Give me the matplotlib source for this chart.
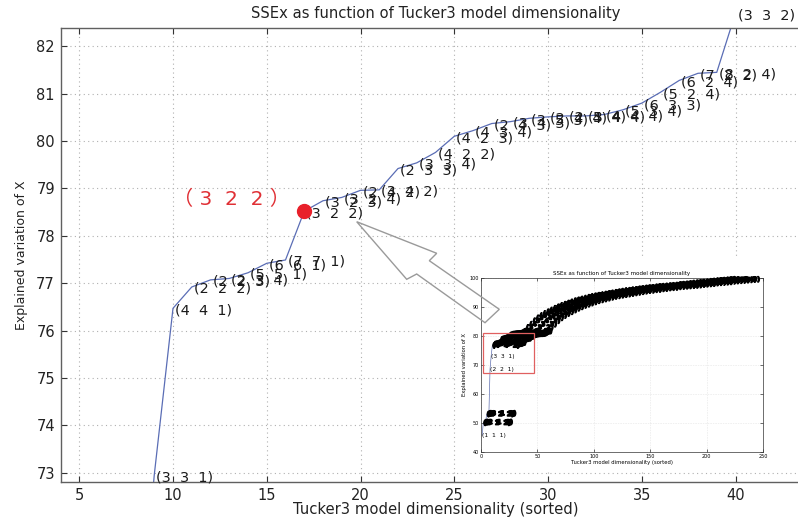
import matplotlib
matplotlib.use('Agg')
import matplotlib.pyplot as plt
import matplotlib.patheffects as pe
from matplotlib.patches import Polygon, Rectangle

# sorted model index, explained variation (%) and the Tucker3 dimensions of each model
dims = [1, 2, 3, 4, 5, 6, 7, 8, 9, 10,
        11, 12, 13, 14, 15, 16, 17, 18, 19, 20,
        21, 22, 23, 24, 25, 26, 27, 28, 29, 30,
        31, 32, 33, 34, 35, 36, 37, 38, 39, 40,
        43, 46, 49, 52, 55, 58, 61, 64, 67, 70,
        73, 76, 79, 82, 85, 88, 91, 94, 97, 100,
        103, 106, 109, 112, 115, 118, 121, 124, 127, 130,
        133, 136, 139, 142, 145, 148, 151, 154, 157, 160,
        163, 166, 169, 172, 175, 178, 181, 184, 187, 190,
        193, 196, 199, 202, 205, 208, 211, 214, 217, 220, 223]
expl = [45.7, 49.8, 50.0, 50.1, 52.8, 53.0, 53.1, 68.4, 72.95, 76.47,
        76.92, 77.07, 77.10, 77.22, 77.42, 77.49, 78.52, 78.74, 78.81, 78.96,
        78.97, 79.42, 79.54, 79.76, 80.10, 80.22, 80.37, 80.41, 80.48, 80.51,
        80.53, 80.53, 80.56, 80.66, 80.80, 81.03, 81.28, 81.43, 81.45, 82.70,
        83.8, 85.0, 86.0, 86.8, 87.5, 88.1, 88.7, 89.3, 89.8, 90.3,
        90.7, 91.1, 91.5, 91.9, 92.2, 92.5, 92.8, 93.1, 93.4, 93.6,
        93.8, 94.0, 94.2, 94.4, 94.6, 94.8, 95.0, 95.2, 95.4, 95.5,
        95.7, 95.8, 96.0, 96.1, 96.3, 96.4, 96.5, 96.7, 96.8, 96.9,
        97.0, 97.1, 97.2, 97.3, 97.5, 97.6, 97.7, 97.8, 98.0, 98.1,
        98.2, 98.3, 98.4, 98.6, 98.7, 98.8, 98.9, 99.0, 99.1, 99.2, 99.3]
tags_lo = ['1 1 1', '1 1 2', '1 2 1', '2 1 1', '1 2 2', '2 1 2', '3 1 3', '2 2 1', '3 3 1', '4 4 1',
           '2 2 2', '2 2 3', '2 3 4', '5 5 1', '6 6 1', '7 7 1', '3 2 2', '3 2 3', '3 2 4', '2 4 2',
           '3 4 2', '2 3 3', '3 3 4', '4 2 2', '4 2 3', '4 3 4', '2 4 3', '3 4 3', '3 5 3', '2 4 4',
           '2 5 4', '3 4 4', '4 4 4', '5 3 4', '6 3 3', '5 2 4', '6 2 4', '7 2 2', '8 2 4', '3 3 2']
# the remaining tags are unreadable in the small picture
tag_pool = ['4 3 3', '5 4 3', '3 4 5', '6 3 4', '4 5 4', '5 5 3',
            '6 4 4', '5 4 5', '7 3 4', '6 5 4', '5 6 5', '7 5 4']
tags = tags_lo + [tag_pool[i % len(tag_pool)] for i in range(len(dims) - len(tags_lo))]
picked = '3 2 2'
plain_tags = ['1 1 1', '2 2 1', '3 3 1']   # legible ones in the small picture

title = 'SSEx as function of Tucker3 model dimensionality'
xlab = 'Tucker3 model dimensionality (sorted)'
ylab = 'Explained variation of X'
zoom_box = (2, 67, 45, 14)

W, H = 798, 518
fig = plt.figure(figsize=(W / 100, H / 100), dpi=100)

def fx(px):
    return px / W

def fy(py):
    return 1 - py / H

def tag_text(t):
    return '(' + '  '.join(t.split()) + ')'

# ---- main zoomed axes ----
xlo, xhi = 4, 44
ylo, yhi = 72.804, 82.386
ax = fig.add_axes([fx(60.5), fy(482), fx(750), 454 / H])
ax.set_xlim(xlo, xhi)
ax.set_ylim(ylo, yhi)
ax.set_xticks([5, 10, 15, 20, 25, 30, 35, 40])
ax.set_yticks(range(73, 83))
ax.grid(True, ls=(0, (1, 3)), color='#b0b0b0', lw=0.8)
ax.tick_params(direction='in', top=True, right=True, length=4, width=0.8,
               labelsize=10.5, pad=4, colors='#333', labelcolor='#222')
for s in ax.spines.values():
    s.set_color('#606060')
    s.set_linewidth(1.0)
ax.plot(dims, expl, color='#5a6db5', lw=0.9)
for x, y, t in zip(dims, expl, tags):
    # only the labels that land on the picture
    if xlo <= x <= xhi and ylo <= y <= yhi + 0.5:
        ax.annotate(tag_text(t), (x, y), xytext=(2, -2),
                    textcoords='offset pixels', ha='left', va='center',
                    fontsize=10.4, color='#1a1a1a', annotation_clip=False)

sel = tags.index(picked)
ax.plot(dims[sel], expl[sel], 'o', color='#e8202a', ms=10, zorder=5)
ax.annotate('\uff08 ' + '  '.join(picked.split()) + ' \uff09', (dims[sel], expl[sel]),
            xytext=(-131, 12), textcoords='offset pixels', ha='left', va='center',
            fontsize=14.5, color='#e03035', family=['DejaVu Sans', 'Noto Sans CJK SC'])

ax.set_title(title, fontsize=10.6, pad=7, color='#222')
ax.set_xlabel(xlab, fontsize=10.6, labelpad=-0.5, color='#222')
ax.set_ylabel(ylab, fontsize=9, labelpad=6, color='#222')

# ---- inset: full picture ----
bg = Rectangle((fx(456), fy(470)), fx(798 - 456), (470 - 258) / H,
               transform=fig.transFigure, facecolor='white', edgecolor='none', zorder=1)
fig.add_artist(bg)

axi = fig.add_axes([fx(481), fy(451.7), fx(763 - 481), (451.7 - 277.7) / H])
axi.set_zorder(2)
axi.set_xlim(0, 250)
axi.set_ylim(40, 100)
axi.set_xticks(range(0, 251, 50))
axi.set_yticks(range(40, 101, 10))
axi.grid(True, ls=(0, (1, 2)), color='#d0d0d0', lw=0.4)
axi.tick_params(direction='in', top=True, right=True, length=2, width=0.4,
                labelsize=3.5, pad=1.5)
for s in axi.spines.values():
    s.set_linewidth(0.5)
    s.set_color('#333')
axi.plot(dims, expl, color='#6070b0', lw=0.5)
thick = [pe.withStroke(linewidth=0.9, foreground='black')]
for x, y, t in zip(dims, expl, tags):
    if t in plain_tags:
        axi.text(x, y, tag_text(t), fontsize=4.3, ha='left', va='center', color='black')
    else:
        axi.text(x, y, tag_text(t), fontsize=4.5, ha='left', va='center',
                 color='black', fontweight='bold', path_effects=thick)
axi.add_patch(Rectangle(zoom_box[:2], zoom_box[2], zoom_box[3], fill=False,
                        edgecolor='#e06060', lw=0.9, zorder=4))
axi.set_title(title, fontsize=4, pad=2)
axi.set_xlabel(xlab, fontsize=3.8, labelpad=1)
axi.set_ylabel(ylab, fontsize=3.8, labelpad=2)

# ---- gray outline arrow pointing from the inset to the zoom ----
arrow_px = [(356.7, 221.7), (436.7, 253.3), (429.3, 260.7), (499.3, 309.3),
            (485.0, 322.7), (416.7, 274.0), (406.7, 279.3)]
arrow = Polygon([(fx(a), fy(b)) for a, b in arrow_px], closed=True, fill=False,
                edgecolor='#9a9a9a', lw=1.0, transform=fig.transFigure, zorder=3)
fig.add_artist(arrow)

fig.savefig('out.png', dpi=100)
